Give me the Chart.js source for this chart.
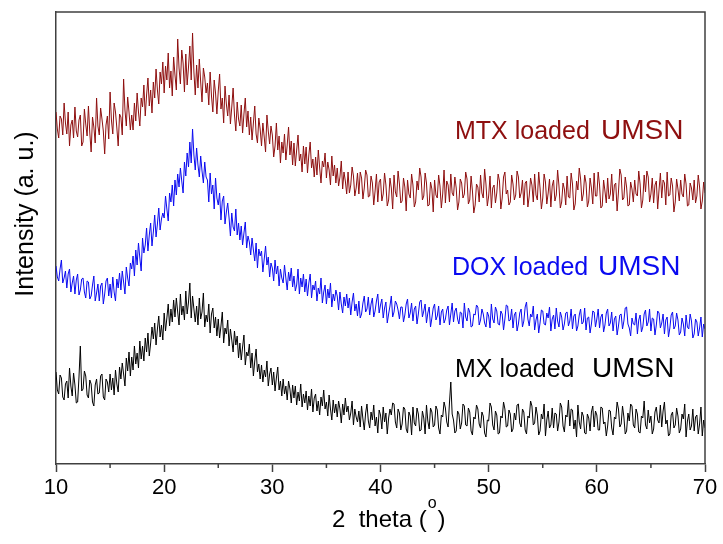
<!DOCTYPE html>
<html>
<head>
<meta charset="utf-8">
<script src="https://cdn.jsdelivr.net/npm/chart.js@4.4.0/dist/chart.umd.min.js"></script>
<style>
  html, body { margin: 0; padding: 0; background: #fff; }
  #wrap { width: 723px; height: 544px; }
</style>
</head>
<body>
<div id="wrap"><canvas id="xrd"></canvas></div>
<script>
// scan: 10 - 70 deg, 0.125 deg per point (one row = one degree), a.u.
const startAngle = 10;
const stepAngle = 0.125;

const mtxLoaded = [
  352, 335, 326, 348, 345, 329, 361, 341,
  330, 352, 318, 339, 344, 326, 357, 333,
  327, 344, 349, 318, 322, 355, 340, 328,
  358, 331, 312, 347, 337, 321, 366, 338,
  329, 356, 345, 333, 310, 339, 348, 325,
  372, 344, 330, 361, 352, 336, 318, 350,
  347, 329, 385, 354, 338, 367, 352, 334,
  349, 334, 361, 343, 371, 352, 338, 366,
  357, 379, 348, 369, 386, 358, 374, 351,
  382, 366, 395, 374, 360, 392, 380, 402,
  371, 398, 384, 411, 376, 393, 368, 407,
  389, 374, 425, 396, 380, 414, 401, 372,
  410, 379, 397, 418, 384, 431, 392, 369,
  399, 376, 405, 382, 362, 396, 387, 371,
  381, 359, 392, 368, 352, 384, 371, 350,
  373, 390, 355, 366, 341, 378, 360, 348,
  369, 340, 357, 376, 349, 333, 362, 345,
  338, 359, 331, 350, 366, 337, 353, 329,
  347, 324, 341, 358, 330, 321, 346, 335,
  318, 341, 327, 312, 349, 333, 320, 338,
  329, 307, 318, 341, 314, 328, 301, 322,
  311, 330, 304, 319, 337, 309, 323, 299,
  321, 298, 314, 329, 303, 310, 292, 318,
  300, 317, 291, 309, 322, 296, 305, 287,
  307, 289, 314, 296, 281, 303, 297, 311,
  286, 302, 294, 279, 308, 288, 299, 281,
  296, 278, 287, 303, 275, 292, 283, 270,
  292, 271, 279, 297, 288, 268, 276, 291,
  270, 292, 286, 265, 276, 294, 289, 267,
  268, 288, 281, 259, 273, 290, 262, 282,
  285, 263, 270, 291, 279, 258, 264, 286,
  276, 255, 289, 272, 267, 293, 280, 261,
  263, 286, 277, 253, 284, 270, 266, 290,
  279, 257, 262, 283, 274, 296, 287, 264,
  268, 291, 281, 258, 259, 282, 275, 252,
  284, 269, 266, 289, 278, 256, 270, 294,
  261, 283, 279, 262, 290, 271, 268, 287,
  276, 254, 262, 285, 281, 266, 270, 292,
  285, 260, 264, 288, 273, 251, 259, 280,
  277, 262, 289, 271, 266, 295, 280, 258,
  268, 288, 256, 276, 279, 261, 271, 290,
  283, 255, 266, 287, 292, 270, 274, 259,
  262, 289, 280, 264, 269, 293, 287, 266,
  271, 284, 259, 281, 283, 257, 268, 286,
  279, 262, 290, 269, 264, 292, 276, 255,
  266, 290, 282, 260, 271, 285, 257, 278,
  284, 263, 269, 294, 278, 256, 262, 281,
  275, 259, 288, 267, 266, 291, 280, 254,
  260, 283, 274, 296, 285, 263, 270, 289,
  281, 257, 263, 286, 276, 260, 291, 268,
  268, 292, 279, 256, 258, 284, 273, 261,
  286, 265, 270, 290, 263, 279, 281, 253,
  272, 295, 289, 264, 266, 287, 277, 258,
  259, 282, 275, 262, 284, 270, 268, 293,
  280, 256, 264, 289, 272, 293, 287, 262,
  270, 286, 261, 279, 283, 255, 274, 291,
  266, 284, 281, 259, 292, 268, 269, 286,
  278, 252, 262, 285, 275, 263, 284, 270,
  267, 290, 280, 258, 259, 281, 276, 264,
  284, 261, 268, 289, 277, 255, 263, 282,
  271
];

const doxLoaded = [
  198, 187, 183, 195, 204, 181, 186, 193,
  176, 190, 195, 172, 181, 188, 170, 184,
  190, 169, 174, 185, 186, 172, 166, 183,
  182, 165, 168, 179, 188, 163, 171, 180,
  163, 178, 181, 160, 170, 183, 186, 168,
  180, 166, 187, 172, 163, 185, 176, 191,
  174, 193, 182, 170, 197, 186, 178, 201,
  195, 208, 188, 214, 199, 221, 206, 193,
  226, 211, 219, 236, 213, 229, 241, 218,
  232, 249, 227, 240, 256, 234, 245, 251,
  246, 268, 255, 243, 271, 262, 279, 258,
  284, 269, 290, 277, 296, 283, 271, 302,
  288, 311, 297, 322, 301, 335, 309, 294,
  316, 299, 287, 308, 293, 281, 302, 287,
  284, 262, 291, 270, 279, 255, 286, 266,
  259, 271, 244, 263, 268, 240, 252, 261,
  246, 228, 251, 237, 233, 255, 229, 241,
  224, 238, 219, 231, 242, 216, 228, 222,
  209, 226, 214, 203, 221, 196, 215, 208,
  213, 192, 205, 218, 199, 207, 187, 201,
  196, 183, 204, 190, 198, 178, 195, 186,
  181, 199, 186, 174, 192, 183, 196, 177,
  188, 173, 179, 195, 170, 186, 177, 190,
  172, 185, 168, 181, 190, 166, 179, 174,
  183, 163, 176, 170, 186, 161, 172, 179,
  160, 175, 166, 181, 157, 170, 163, 174,
  168, 154, 172, 160, 151, 167, 158, 170,
  156, 166, 149, 162, 171, 153, 160, 148,
  163, 146, 150, 161, 168, 152, 155, 167,
  149, 160, 166, 147, 153, 163, 170, 151,
  159, 165, 146, 156, 162, 141, 150, 158,
  168, 147, 152, 163, 160, 154, 145, 157,
  157, 142, 149, 160, 165, 146, 151, 161,
  143, 155, 158, 140, 150, 162, 164, 147,
  153, 160, 141, 151, 157, 137, 146, 156,
  160, 144, 148, 158, 139, 152, 155, 141,
  145, 154, 158, 139, 150, 161, 142, 153,
  156, 145, 140, 152, 151, 136, 161, 147,
  143, 156, 152, 137, 138, 150, 149, 159,
  157, 139, 144, 155, 150, 141, 137, 152,
  148, 136, 160, 145, 141, 157, 153, 140,
  139, 153, 150, 134, 145, 159, 158, 143,
  144, 155, 136, 149, 152, 133, 140, 151,
  155, 137, 143, 157, 162, 145, 138, 150,
  147, 158, 134, 144, 150, 131, 141, 154,
  153, 140, 139, 151, 146, 157, 133, 145,
  149, 135, 156, 143, 137, 152, 147, 134,
  140, 151, 152, 138, 143, 155, 135, 148,
  150, 133, 138, 149, 155, 140, 142, 156,
  134, 146, 147, 131, 140, 153, 152, 137,
  145, 155, 136, 147, 150, 132, 139, 151,
  155, 138, 141, 152, 133, 145, 148, 129,
  138, 149, 150, 135, 143, 156, 157, 140,
  136, 128, 146, 140, 139, 151, 130, 144,
  149, 132, 137, 150, 154, 138, 142, 155,
  133, 146, 145, 129, 139, 153, 151, 136,
  141, 150, 130, 144, 147, 127, 136, 149,
  152, 135, 138, 151, 144, 129, 132, 146,
  140, 128, 149, 137, 135, 150, 143, 126,
  130, 145, 142, 128, 136, 147, 127, 140,
  135
];

const mxLoaded = [
  92, 74, 70, 89, 86, 67, 64, 80,
  83, 66, 96, 78, 68, 91, 79, 61,
  62, 87, 118, 73, 75, 93, 88, 69,
  66, 84, 80, 62, 58, 79, 85, 70,
  71, 88, 90, 67, 64, 85, 82, 72,
  90, 74, 86, 69, 94, 80, 72, 97,
  85, 101, 90, 78, 106, 93, 112, 88,
  107, 94, 118, 100, 111, 96, 123, 105,
  118, 103, 126, 112, 131, 108, 121, 137,
  125, 141, 119, 135, 148, 127, 139, 124,
  151, 133, 146, 160, 138, 155, 142, 164,
  147, 166, 152, 139, 170, 149, 158, 144,
  173, 150, 162, 181, 146, 168, 155, 142,
  158, 139, 166, 145, 152, 171, 137, 149,
  142, 160, 131, 150, 156, 136, 147, 128,
  145, 126, 138, 152, 121, 136, 130, 144,
  118, 135, 124, 112, 133, 119, 128, 106,
  121, 104, 117, 129, 99, 112, 108, 120,
  96, 111, 88, 103, 115, 92, 100, 85,
  99, 82, 94, 87, 103, 78, 90, 96,
  79, 92, 73, 86, 97, 74, 83, 68,
  85, 70, 78, 64, 83, 75, 61, 79,
  66, 78, 59, 72, 63, 80, 57, 70,
  61, 73, 54, 68, 58, 75, 52, 66,
  70, 53, 63, 49, 67, 58, 74, 55,
  62, 48, 69, 55, 44, 64, 51, 60,
  47, 63, 55, 41, 60, 49, 66, 52,
  58, 44, 51, 63, 39, 55, 47, 42,
  53, 37, 58, 45, 34, 51, 60, 43,
  36, 52, 44, 59, 38, 47, 31, 54,
  49, 35, 57, 42, 51, 30, 46, 55,
  49, 61, 60, 42, 36, 55, 51, 34,
  40, 57, 55, 35, 31, 52, 48, 29,
  57, 41, 38, 56, 50, 33, 34, 53,
  46, 30, 59, 43, 35, 56, 52, 37,
  39, 58, 54, 36, 30, 49, 47, 62,
  56, 42, 37, 61, 82, 50, 44, 31,
  33, 53, 50, 35, 41, 60, 58, 39,
  38, 56, 52, 33, 29, 47, 45, 59,
  55, 40, 36, 52, 48, 31, 27, 44,
  43, 61, 57, 39, 34, 53, 49, 30,
  31, 48, 46, 62, 55, 37, 38, 54,
  50, 32, 35, 51, 44, 59, 60, 41,
  37, 55, 52, 34, 30, 48, 46, 63,
  58, 39, 41, 57, 49, 29, 33, 50,
  45, 60, 28, 44, 53, 36, 39, 56,
  36, 51, 50, 33, 42, 61, 57, 38,
  32, 49, 47, 64, 38, 55, 54, 35,
  44, 27, 59, 42, 35, 52, 48, 31,
  30, 50, 46, 33, 52, 58, 37, 53,
  49, 34, 34, 57, 56, 40, 42, 28,
  38, 54, 53, 36, 29, 47, 45, 62,
  55, 37, 40, 58, 47, 30, 33, 51,
  43, 60, 58, 39, 36, 55, 50, 32,
  31, 48, 46, 63, 39, 35, 54, 41,
  48, 30, 35, 52, 57, 44, 41, 59,
  37, 53, 62, 40, 44, 28, 30, 49,
  52, 36, 39, 56, 48, 31, 35, 50,
  45, 60, 27, 43, 50, 34, 38, 55,
  33, 47, 49, 30, 40, 57, 28, 44,
  36
];

const seriesLabels = ['MTX loaded', 'DOX loaded', 'MX loaded'];
const seriesColors = ['#8e0f0f', '#0a0af0', '#000000'];
const majorTicks = [10, 20, 30, 40, 50, 60, 70];
const minorTicks = [15, 25, 35, 45, 55, 65];

function toPoints(values) {
  return values.map((v, i) => ({ x: startAngle + i * stepAngle, y: v }));
}

const decor = {
  id: 'decor',
  afterDraw(chart) {
    const { ctx, chartArea: a, scales } = chart;
    const x = scales.x;
    ctx.save();
    ctx.strokeStyle = '#404040';
    ctx.lineWidth = 1.5;
    ctx.beginPath();
    ctx.moveTo(a.left, a.top);
    ctx.lineTo(a.right, a.top);
    ctx.lineTo(a.right, a.bottom);
    ctx.stroke();

    minorTicks.forEach(v => {
      const px = x.getPixelForValue(v);
      ctx.beginPath();
      ctx.moveTo(px, a.bottom);
      ctx.lineTo(px, a.bottom + 4);
      ctx.stroke();
    });

    // y title
    ctx.fillStyle = '#000';
    ctx.font = '25px "Liberation Sans", Arial, sans-serif';
    ctx.textAlign = 'center';
    ctx.textBaseline = 'alphabetic';
    ctx.save();
    ctx.translate(33, 214);
    ctx.rotate(-Math.PI / 2);
    ctx.fillText('Intensity (a. u.)', 0, 0);
    ctx.restore();

    // x title with superscript o
    ctx.textAlign = 'left';
    let tx = 332;
    const base = 527;
    ctx.font = '24px "Liberation Sans", Arial, sans-serif';
    const head = '2  theta (';
    ctx.fillText(head, tx, base);
    tx += ctx.measureText(head).width;
    ctx.font = '16px "Liberation Sans", Arial, sans-serif';
    ctx.fillText('o', tx + 1, base - 19);
    tx += ctx.measureText('o').width + 2;
    ctx.font = '24px "Liberation Sans", Arial, sans-serif';
    ctx.fillText(')', tx, base);

    // series labels
    const labelPos = [[455, 601, 139], [452, 598, 275], [455, 592, 377]];
    labelPos.forEach((p, i) => {
      ctx.fillStyle = seriesColors[i];
      ctx.font = '25px "Liberation Sans", Arial, sans-serif';
      ctx.fillText(seriesLabels[i], p[0], p[2]);
      ctx.font = '28px "Liberation Sans", Arial, sans-serif';
      ctx.fillText('UMSN', p[1], p[2]);
    });
    ctx.restore();
  }
};

Chart.defaults.font.family = '"Liberation Sans", Arial, sans-serif';
Chart.defaults.color = '#000';

new Chart(document.getElementById('xrd'), {
  type: 'line',
  data: {
    datasets: [mtxLoaded, doxLoaded, mxLoaded].map((vals, i) => ({
      label: seriesLabels[i] + ' UMSN',
      data: toPoints(vals),
      borderColor: seriesColors[i],
      borderWidth: 1,
      pointRadius: 0,
      tension: 0,
      fill: false
    }))
  },
  options: {
    responsive: true,
    maintainAspectRatio: false,
    animation: false,
    layout: { padding: { top: 12, right: 18, left: 0, bottom: 0 } },
    plugins: {
      legend: { display: false },
      tooltip: { enabled: false }
    },
    scales: {
      x: {
        type: 'linear',
        min: 10,
        max: 70,
        afterFit: axis => { axis.height = 80; },
        afterBuildTicks: axis => { axis.ticks = majorTicks.map(v => ({ value: v })); },
        ticks: { font: { size: 22 }, padding: 3, maxRotation: 0, color: '#000' },
        grid: { drawOnChartArea: false, tickLength: 8, tickColor: '#404040', tickWidth: 1.5 },
        border: { color: '#404040', width: 1.5 }
      },
      y: {
        min: 0,
        max: 452,
        afterFit: axis => { axis.width = 56; },
        ticks: { display: false },
        grid: { display: false },
        border: { color: '#404040', width: 1.5 }
      }
    }
  },
  plugins: [decor]
});
</script>
</body>
</html>
